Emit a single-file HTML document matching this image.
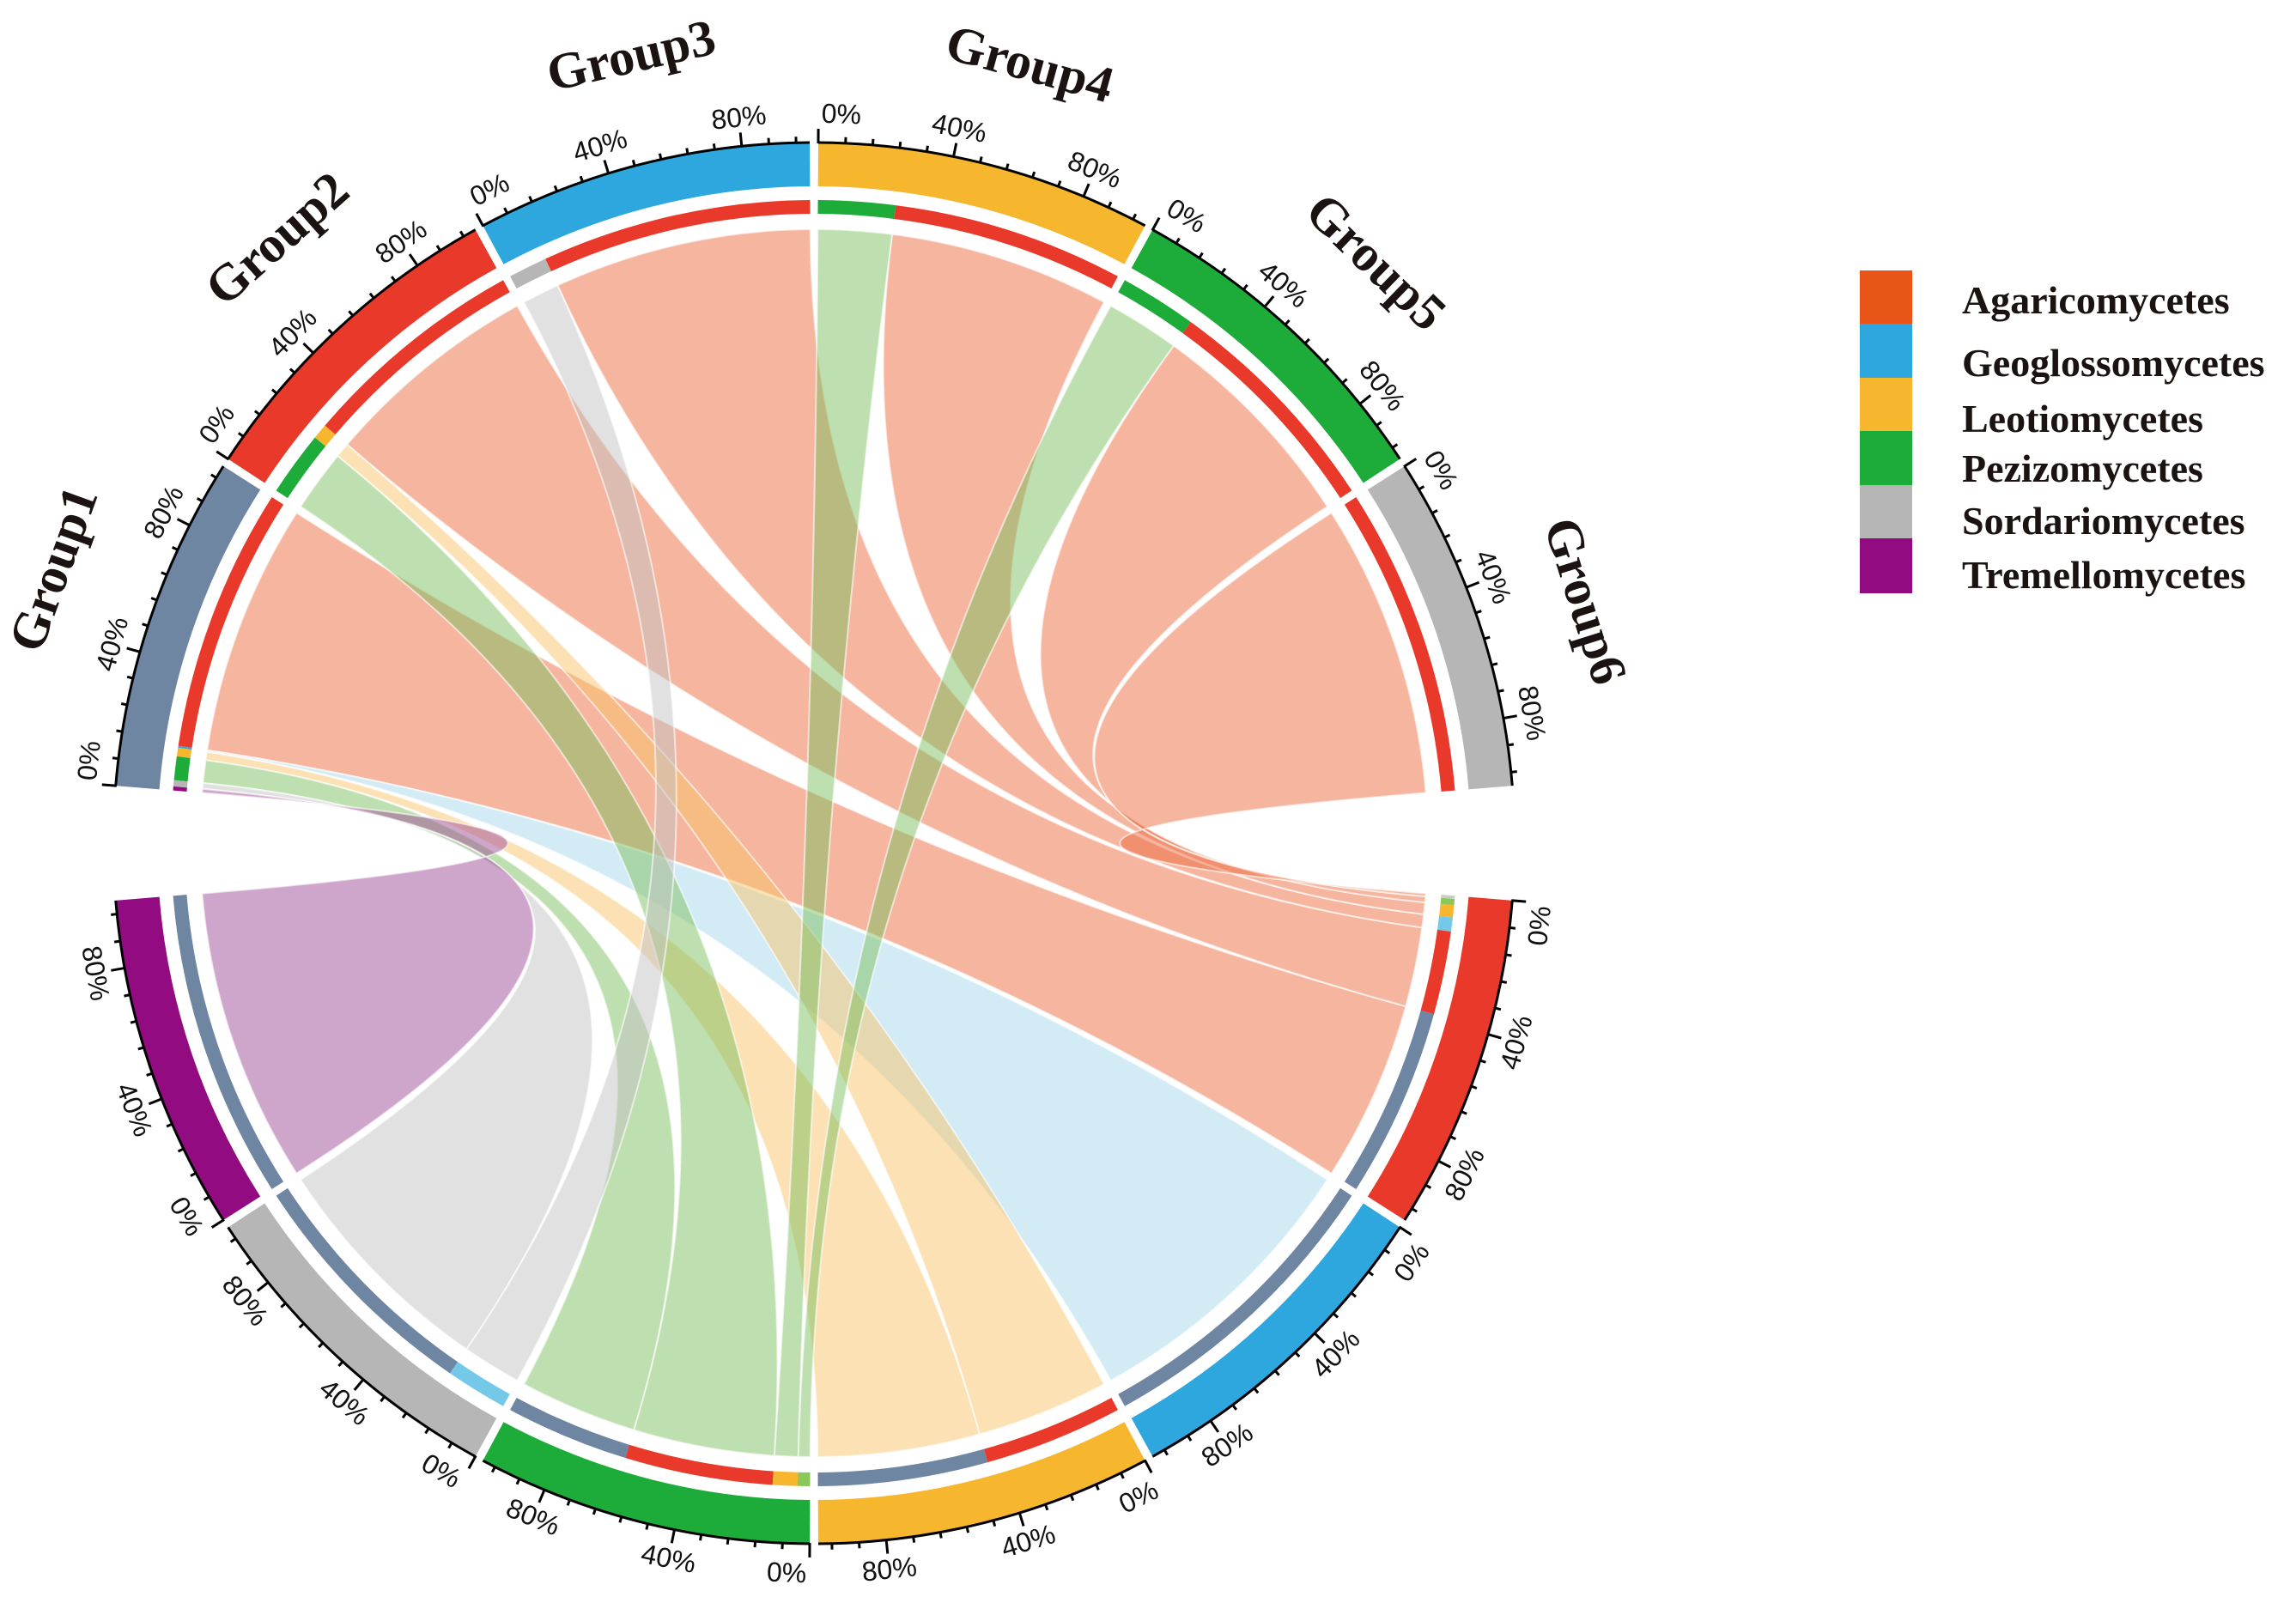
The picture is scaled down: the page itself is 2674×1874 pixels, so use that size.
<!DOCTYPE html>
<html>
<head>
<meta charset="utf-8">
<style>
  html,body{margin:0;padding:0;background:#fff;}
  svg{display:block;}
</style>
</head>
<body>
<svg id="chart" xmlns="http://www.w3.org/2000/svg" width="2674" height="1874" viewBox="0 0 2674 1874">
  <rect x="0" y="0" width="2674" height="1874" fill="#ffffff"/>
  <g id="chords"></g>
  <g id="rings"></g>
  <g id="axes"></g>
  <g id="labels"></g>
  <g id="legend">
    <rect x="2166" y="315" width="61" height="63" fill="#e85516"/>
    <rect x="2166" y="377" width="61" height="64" fill="#2ea7df"/>
    <rect x="2166" y="440" width="61" height="63" fill="#f6b62d"/>
    <rect x="2166" y="502" width="61" height="64" fill="#1dab39"/>
    <rect x="2166" y="565" width="61" height="63" fill="#b5b6b5"/>
    <rect x="2166" y="627" width="61" height="64" fill="#930b80"/>
    <g font-family="'Liberation Serif', serif" font-weight="bold" font-size="46" fill="#1a1311">
      <text x="2285" y="365">Agaricomycetes</text>
      <text x="2285" y="438">Geoglossomycetes</text>
      <text x="2285" y="503">Leotiomycetes</text>
      <text x="2285" y="561">Pezizomycetes</text>
      <text x="2285" y="622">Sordariomycetes</text>
      <text x="2285" y="685">Tremellomycetes</text>
    </g>
  </g>
</svg>
<script>
// ---- data ----
const groups = ['Group1','Group2','Group3','Group4','Group5','Group6'];
const classes = ['Agaricomycetes','Geoglossomycetes','Leotiomycetes','Pezizomycetes','Sordariomycetes','Tremellomycetes'];
// share of each class within each group (%), class order as above
const g1Share = [85.6, 0.6, 2.8, 7.7, 2.0, 1.3];
const g2Share = [74, 0, 5, 21, 0, 0];
const g3Share = [87.4, 0, 0, 0, 12.6, 0];
const g4Share = [75, 0, 0, 25, 0, 0];
const g5Share = [75, 0, 0, 25, 0, 0];
const g6Share = [100, 0, 0, 0, 0, 0];
// share of each group within each class (%), group order Group1..Group6
const agaShare = [61.5, 27, 4.5, 4, 2, 1];
const geoShare = [100, 0, 0, 0, 0, 0];
const leoShare = [55, 45, 0, 0, 0, 0];
const pezShare = [40, 48, 0, 8, 4, 0];
const sorShare = [80, 0, 20, 0, 0, 0];
const treShare = [100, 0, 0, 0, 0, 0];
const tickValues = [0,8,16,24,32,40,48,56,64,72,80,88,96];
const tickLabels = ['0%','40%','80%'];
const tickLabelValues = [0,40,80];

const groupShares = [g1Share,g2Share,g3Share,g4Share,g5Share,g6Share];
const classShares = [agaShare,geoShare,leoShare,pezShare,sorShare,treShare];

// ---- styling / layout ----
const cx = 948, cy = 982;
const R_OUT = 815, R_IN = 765, RC_OUT = 749, RC_IN = 733, R_CH = 715;
const SPAN = 27.85, GAP = 0.7;
const UPPER_START = 274.7, LOWER_START = 94.7;
const groupColors = ['#6f86a3','#e8392a','#2ea7df','#f6b62d','#1dab39','#b5b6b5'];
const groupRingColors = ['#6f86a3','#e8392a','#74c8e8','#f6b62d','#8bc85a','#c9cccc'];
const classColors = ['#e8392a','#2ea7df','#f6b62d','#1dab39','#b5b6b5','#930b80'];
const chordColors = ['#ec6b3f','#a6d7eb','#f7c46a','#7dc05f','#c4c4c4','#a04d98'];
const NS = 'http://www.w3.org/2000/svg';

function pt(r, a){ const t=a*Math.PI/180; return [cx + r*Math.sin(t), cy - r*Math.cos(t)]; }
function annulus(r0, r1, a0, a1){
  const p0=pt(r1,a0), p1=pt(r1,a1), p2=pt(r0,a1), p3=pt(r0,a0);
  const large = (a1-a0)>180?1:0;
  return `M${p0[0]},${p0[1]} A${r1},${r1} 0 ${large} 1 ${p1[0]},${p1[1]} L${p2[0]},${p2[1]} A${r0},${r0} 0 ${large} 0 ${p3[0]},${p3[1]} Z`;
}
function norm(a){ return ((a%360)+360)%360; }
function groupStart(i){ return norm(UPPER_START + i*(SPAN+GAP)); }
function classStart(i){ return LOWER_START + i*(SPAN+GAP); }

const order = [5,4,3,2,1,0];
const gSlice = groups.map(()=>[]);
groups.forEach((g,gi)=>{
  const sh = groupShares[gi]; const tot = sh.reduce((a,b)=>a+b,0);
  let cum=0; const st=groupStart(gi);
  order.forEach(ci=>{ const a0=st+SPAN*cum/tot; cum+=sh[ci]; const a1=st+SPAN*cum/tot; gSlice[gi][ci]=[a0,a1]; });
});
const cSlice = classes.map(()=>[]);
classes.forEach((c,ci)=>{
  const sh = classShares[ci]; const tot = sh.reduce((a,b)=>a+b,0);
  let cum=0; const st=classStart(ci);
  order.forEach(gi=>{ const a0=st+SPAN*cum/tot; cum+=sh[gi]; const a1=st+SPAN*cum/tot; cSlice[ci][gi]=[a0,a1]; });
});

// ---- chords ----
const chordG = document.getElementById('chords');
classes.forEach((c,ci)=>{
  groups.forEach((g,gi)=>{
    if(groupShares[gi][ci]<=0 || classShares[ci][gi]<=0) return;
    const [s0,s1]=gSlice[gi][ci], [t0,t1]=cSlice[ci][gi];
    const a=pt(R_CH,s0), b=pt(R_CH,s1), c2=pt(R_CH,t0), d=pt(R_CH,t1);
    const d1 = `M${a[0]},${a[1]} A${R_CH},${R_CH} 0 0 1 ${b[0]},${b[1]} Q${cx},${cy} ${c2[0]},${c2[1]} A${R_CH},${R_CH} 0 0 1 ${d[0]},${d[1]} Q${cx},${cy} ${a[0]},${a[1]} Z`;
    const p=document.createElementNS(NS,'path');
    p.setAttribute('d',d1);
    p.setAttribute('fill',chordColors[ci]);
    p.setAttribute('fill-opacity','0.5');
    p.setAttribute('stroke','#ffffff');
    p.setAttribute('stroke-width','2');
    p.setAttribute('stroke-opacity','0.6');
    
    
    chordG.appendChild(p);
  });
});

// ---- rings ----
const ringG = document.getElementById('rings');
function addPath(parent,d,fill,name){
  const p=document.createElementNS(NS,'path');
  p.setAttribute('d',d); p.setAttribute('fill',fill);
  
  
  parent.appendChild(p); return p;
}
groups.forEach((g,gi)=>{
  const st=groupStart(gi);
  addPath(ringG, annulus(R_IN,R_OUT,st,st+SPAN), groupColors[gi], 'sector-'+g.toLowerCase());
  classes.forEach((c,ci)=>{
    const s=gSlice[gi][ci]; if(s[1]-s[0]<=0) return;
    addPath(ringG, annulus(RC_IN,RC_OUT,s[0],s[1]), classColors[ci], 'composition-'+g.toLowerCase()+'-'+c.toLowerCase());
  });
});
classes.forEach((c,ci)=>{
  const st=classStart(ci);
  addPath(ringG, annulus(R_IN,R_OUT,st,st+SPAN), classColors[ci], 'sector-'+c.toLowerCase());
  groups.forEach((g,gi)=>{
    const s=cSlice[ci][gi]; if(s[1]-s[0]<=0) return;
    addPath(ringG, annulus(RC_IN,RC_OUT,s[0],s[1]), groupRingColors[gi], 'composition-'+c.toLowerCase()+'-'+g.toLowerCase());
  });
});

// ---- axes ----
const axG = document.getElementById('axes');
function addAxis(st, lower, name){
  const g=document.createElementNS(NS,'g');
  
  
  const a0=pt(R_OUT+1,st), a1=pt(R_OUT+1,st+SPAN);
  const arc=document.createElementNS(NS,'path');
  arc.setAttribute('d',`M${a0[0]},${a0[1]} A${R_OUT+1},${R_OUT+1} 0 0 1 ${a1[0]},${a1[1]}`);
  arc.setAttribute('fill','none'); arc.setAttribute('stroke','#000'); arc.setAttribute('stroke-width','3');
  
  
  g.appendChild(arc);
  tickValues.forEach(v=>{
    const a=st+SPAN*v/100;
    const major = tickLabelValues.indexOf(v)>=0;
    const p0=pt(R_OUT,a), p1=pt(R_OUT+(major?17:8),a);
    const l=document.createElementNS(NS,'line');
    l.setAttribute('x1',p0[0]); l.setAttribute('y1',p0[1]); l.setAttribute('x2',p1[0]); l.setAttribute('y2',p1[1]);
    l.setAttribute('stroke','#000'); l.setAttribute('stroke-width','3');
    
    
    g.appendChild(l);
  });
  tickLabelValues.forEach((v,i)=>{
    let a=st+SPAN*v/100; if(v===0) a+=1.8;
    const t=document.createElementNS(NS,'text');
    const rot = lower ? a-180 : a;
    const p=pt(850,a);
    t.setAttribute('transform',`translate(${p[0]},${p[1]}) rotate(${rot})`);
    t.setAttribute('text-anchor','middle'); t.setAttribute('dominant-baseline','central');
    t.setAttribute('font-family',"'Liberation Sans', sans-serif"); t.setAttribute('font-size','32');
    t.setAttribute('fill','#111');
    t.textContent=tickLabels[i];
    
    
    g.appendChild(t);
  });
  axG.appendChild(g);
}
groups.forEach((g,gi)=>addAxis(groupStart(gi), false, g.toLowerCase()));
classes.forEach((c,ci)=>addAxis(classStart(ci), true, c.toLowerCase()));

// ---- group labels ----
const lbG = document.getElementById('labels');
groups.forEach((g,gi)=>{
  const a=groupStart(gi)+SPAN/2+1.2;
  const p=pt(942,a);
  const t=document.createElementNS(NS,'text');
  t.setAttribute('transform',`translate(${p[0]},${p[1]}) rotate(${a})`);
  t.setAttribute('text-anchor','middle'); t.setAttribute('dominant-baseline','central');
  t.setAttribute('font-family',"'Liberation Serif', serif"); t.setAttribute('font-weight','bold');
  t.setAttribute('font-size','60'); t.setAttribute('fill','#1a1311');
  t.textContent=g;
  
  
  lbG.appendChild(t);
});
</script>
</body>
</html>
